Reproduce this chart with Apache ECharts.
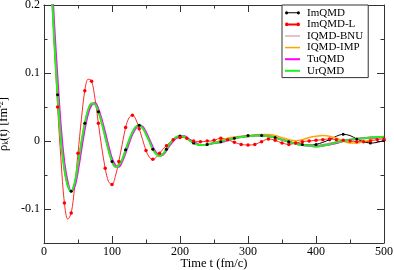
<!DOCTYPE html>
<html><head><meta charset="utf-8">
<script src="https://cdn.jsdelivr.net/npm/echarts@6/dist/echarts.min.js"></script>
<style>html,body{margin:0;padding:0;background:#fff}#c{width:394px;height:270px}</style>
</head><body><div id="c"></div>
<script>
const times = [0,5,10,15,20,25,30,35,40,45,50,55,60,65,70,75,80,85,90,95,100,105,110,115,120,125,130,135,140,145,150,155,160,165,170,175,180,185,190,195,200,205,210,215,220,225,230,235,240,245,250,
  260,270,280,290,300,310,320,330,340,350,360,370,380,390,400,410,420,430,440,450,460,470,480,490,500];

const imqmd = [0.45,0.36,0.25,0.148,0.068,0.0,-0.042,-0.066,-0.074,-0.062,-0.034,-0.002,0.026,0.046,0.055,0.054,0.043,0.026,0.006,-0.014,-0.030,-0.038,-0.036,-0.027,-0.013,0.001,0.013,0.021,0.023,0.019,0.010,-0.001,-0.012,-0.019,-0.022,-0.019,-0.012,-0.004,0.002,0.006,0.0074,0.007,0.004,0.000,-0.003,-0.005,-0.006,-0.006,-0.005,-0.004,-0.003,
  -0.001,0.002,0.004,0.006,0.008,0.008,0.008,0.007,0.005,0.002,-0.001,-0.003,-0.005,-0.006,-0.005,-0.002,0.002,0.007,0.0098,0.008,0.003,-0.001,-0.003,-0.002,0.001];

const imqmdL = [0.42,0.33,0.24,0.146,0.05,-0.028,-0.091,-0.115,-0.106,-0.068,-0.018,0.032,0.074,0.091,0.088,0.062,0.026,-0.010,-0.040,-0.060,-0.064,-0.052,-0.030,-0.005,0.020,0.034,0.038,0.032,0.018,0.002,-0.014,-0.024,-0.027,-0.024,-0.018,-0.012,-0.007,-0.002,0.002,0.004,0.005,0.005,0.004,0.002,0.000,-0.001,-0.001,-0.001,0.000,0.000,0.001,
  0.004,0.002,-0.002,-0.005,-0.006,-0.005,-0.001,0.003,0.001,-0.003,-0.005,-0.003,-0.001,0.000,0.001,0.002,0.003,0.002,0.001,0.000,-0.001,-0.001,0.000,0.002,0.003];

const iqmdBnu = [0.45,0.36,0.25,0.148,0.068,0.0,-0.042,-0.066,-0.074,-0.062,-0.034,-0.002,0.026,0.046,0.055,0.054,0.043,0.026,0.006,-0.014,-0.030,-0.038,-0.036,-0.027,-0.013,0.001,0.013,0.021,0.023,0.019,0.010,-0.001,-0.012,-0.019,-0.022,-0.019,-0.012,-0.004,0.002,0.006,0.0074,0.007,0.004,0.000,-0.003,-0.005,-0.006,-0.006,-0.005,-0.004,-0.003,
  0.000,0.003,0.005,0.006,0.007,0.008,0.008,0.007,0.004,0.001,-0.002,-0.004,-0.005,-0.006,-0.006,-0.005,-0.003,-0.001,0.001,0.002,0.003,0.004,0.004,0.005,0.006];

const iqmdImp = [0.45,0.36,0.25,0.148,0.068,0.0,-0.042,-0.066,-0.074,-0.062,-0.034,-0.002,0.026,0.046,0.055,0.054,0.043,0.026,0.006,-0.014,-0.030,-0.038,-0.036,-0.027,-0.013,0.001,0.013,0.021,0.023,0.019,0.010,-0.001,-0.012,-0.019,-0.022,-0.019,-0.012,-0.004,0.002,0.006,0.0074,0.007,0.004,0.000,-0.003,-0.005,-0.006,-0.006,-0.005,-0.004,-0.003,
  0.001,0.004,0.006,0.007,0.008,0.009,0.0095,0.0095,0.008,0.005,0.002,0.0005,0.002,0.005,0.007,0.008,0.007,0.004,0.000,-0.003,-0.003,-0.001,0.002,0.005,0.007];

const tuqmd = [0.48,0.39,0.268,0.17,0.09,0.018,-0.032,-0.061,-0.074,-0.067,-0.043,-0.012,0.018,0.041,0.053,0.056,0.047,0.031,0.012,-0.008,-0.026,-0.036,-0.038,-0.030,-0.017,-0.003,0.010,0.019,0.023,0.021,0.013,0.002,-0.009,-0.017,-0.021,-0.020,-0.014,-0.006,0.000,0.005,0.007,0.0074,0.005,0.001,-0.002,-0.004,-0.006,-0.006,-0.005,-0.004,-0.003,
  -0.002,0.001,0.004,0.006,0.007,0.008,0.008,0.007,0.005,0.002,-0.001,-0.004,-0.006,-0.007,-0.008,-0.007,-0.005,-0.003,0.000,0.002,0.003,0.004,0.005,0.005,0.006];

const urqmd = [0.45,0.36,0.25,0.148,0.068,0.0,-0.042,-0.066,-0.074,-0.062,-0.034,-0.002,0.026,0.046,0.055,0.054,0.043,0.026,0.006,-0.014,-0.030,-0.038,-0.036,-0.027,-0.013,0.001,0.013,0.021,0.023,0.019,0.010,-0.001,-0.012,-0.019,-0.022,-0.019,-0.012,-0.004,0.002,0.006,0.0074,0.007,0.004,0.000,-0.003,-0.005,-0.006,-0.006,-0.005,-0.004,-0.003,
  -0.001,0.002,0.004,0.006,0.007,0.008,0.008,0.007,0.005,0.002,-0.001,-0.004,-0.006,-0.007,-0.008,-0.007,-0.005,-0.002,0.000,0.002,0.003,0.004,0.005,0.006,0.006];

const yMajor = [-0.1,0,0.1,0.2];
const yMinor = [-0.15,-0.05,0.05,0.15];

const FONT = 'Liberation Serif, Times New Roman, serif';
const pairs = v => times.map((t,i)=>[t, v[i]]);

const ICON_DOTS = 'path://M0,2.5a1.6,1.6 0 1,1 3.2,0a1.6,1.6 0 1,1 -3.2,0z M11.8,2.5a1.6,1.6 0 1,1 3.2,0a1.6,1.6 0 1,1 -3.2,0z M1.5,2h12v1h-12z';
const ICON_DOTS_THICK = 'path://M0,2.5a1.8,1.8 0 1,1 3.6,0a1.8,1.8 0 1,1 -3.6,0z M11.4,2.5a1.8,1.8 0 1,1 3.6,0a1.8,1.8 0 1,1 -3.6,0z M1.5,1.5h12v2h-12z';
const ICON_LINE1 = 'path://M0,0h15v1h-15z';
const ICON_LINE15 = 'path://M0,0h15v1.5h-15z';
const ICON_LINE2 = 'path://M0,0h15v2h-15z';

const chart = echarts.init(document.getElementById('c'), null, {renderer:'canvas'});
const axLine = {show:true, onZero:false, lineStyle:{color:'#333', width:1}};
const baseX = {
  type:'value', min:0, max:500, interval:100,
  axisLine: axLine, splitLine:{show:false},
  axisTick:{show:true, inside:true, length:7, lineStyle:{color:'#333'}},
  minorTick:{show:true, splitNumber:2, length:3.5, lineStyle:{color:'#333'}},
  minorSplitLine:{show:false}
};
const baseY = {
  type:'value', min:-0.15, max:0.2, interval:0.05,
  axisLine: axLine, splitLine:{show:false}, axisLabel:{show:false}
};
function lineSeries(name, data, color, width, extra){
  return Object.assign({
    name, type:'line', data: pairs(data), smooth:0.35, showSymbol:false,
    symbol:'none', color, lineStyle:{color, width}, animation:false, clip:true,
    xAxisIndex:0, yAxisIndex:0, emphasis:{disabled:true}
  }, extra||{});
}
chart.setOption({
  backgroundColor:'#fff',
  animation:false,
  grid:{left:44, right:10, top:5, bottom:27, containLabel:false, outerBoundsMode:'none'},
  legend:{
    show:true, orient:'vertical', left:282, top:5,
    backgroundColor:'#fff', borderColor:'#333', borderWidth:1,
    padding:[2,5,1,3], itemGap:0, itemWidth:15, itemHeight:5,
    textStyle:{fontFamily:FONT, fontSize:11, color:'#000', lineHeight:11.6, padding:[0,0,0,2]},
    selectedMode:false,
    data:[
      {name:'ImQMD', icon:ICON_DOTS},
      {name:'ImQMD-L', icon:ICON_DOTS_THICK},
      {name:'IQMD-BNU', icon:ICON_LINE1},
      {name:'IQMD-IMP', icon:ICON_LINE15},
      {name:'TuQMD', icon:ICON_LINE2},
      {name:'UrQMD', icon:ICON_LINE2}
    ]
  },
  xAxis:[
    Object.assign({}, baseX, {position:'bottom',
      axisLabel:{show:true, margin:2.5, fontFamily:FONT, fontSize:12, color:'#000'},
      name:'Time t (fm/c)', nameLocation:'middle', nameGap:12, nameMoveOverlap:false,
      nameTextStyle:{fontFamily:FONT, fontSize:12.5, color:'#000', verticalAlign:'top', padding:[2,0,0,0]}}),
    Object.assign({}, baseX, {position:'top', axisLabel:{show:false}})
  ],
  yAxis:[
    Object.assign({}, baseY, {position:'left',
      axisTick:{show:true, inside:true, length:7, customValues:yMajor, lineStyle:{color:'#333'}},
      axisLabel:{show:true, customValues:yMajor, margin:4, fontFamily:FONT, fontSize:12, color:'#000'},
      name:'ρ{sub|k}(t) [fm{sup|-2}]', nameLocation:'middle', nameGap:28, nameRotate:90,
      nameTextStyle:{fontFamily:FONT, fontSize:12.5, color:'#000',
        rich:{sub:{fontFamily:FONT, fontSize:8, color:'#000', verticalAlign:'bottom', padding:[5,0,0,0]},
              sup:{fontFamily:FONT, fontSize:8, color:'#000', verticalAlign:'top', padding:[0,0,5,0]}}}}),
    Object.assign({}, baseY, {position:'left', axisLine:{show:false, onZero:false},
      axisTick:{show:true, inside:true, length:3.5, customValues:yMinor, lineStyle:{color:'#333'}}}),
    Object.assign({}, baseY, {position:'right',
      axisTick:{show:true, inside:true, length:7, customValues:yMajor, lineStyle:{color:'#333'}}}),
    Object.assign({}, baseY, {position:'right', axisLine:{show:false, onZero:false},
      axisTick:{show:true, inside:true, length:3.5, customValues:yMinor, lineStyle:{color:'#333'}}})
  ],
  series:[
    lineSeries('ImQMD', imqmd, '#000000', 1, {showSymbol:true, showAllSymbol:true, symbol:'circle',
      symbolSize: v => (v[0] % 20 === 0 ? 3 : 0), itemStyle:{color:'#000'}}),
    lineSeries('ImQMD-L', imqmdL, '#ff2a2a', 1, {showSymbol:true, showAllSymbol:true, symbol:'circle',
      symbolSize: v => (v[0] % 10 === 0 ? 3.5 : 0), itemStyle:{color:'#ff0000'}}),
    lineSeries('IQMD-BNU', iqmdBnu, '#bc8f8f', 1),
    lineSeries('IQMD-IMP', iqmdImp, '#ffa500', 1.5),
    lineSeries('TuQMD', tuqmd, '#ff00ff', 2),
    lineSeries('UrQMD', urqmd, '#22ee22', 2)
  ]
});
</script></body></html>
